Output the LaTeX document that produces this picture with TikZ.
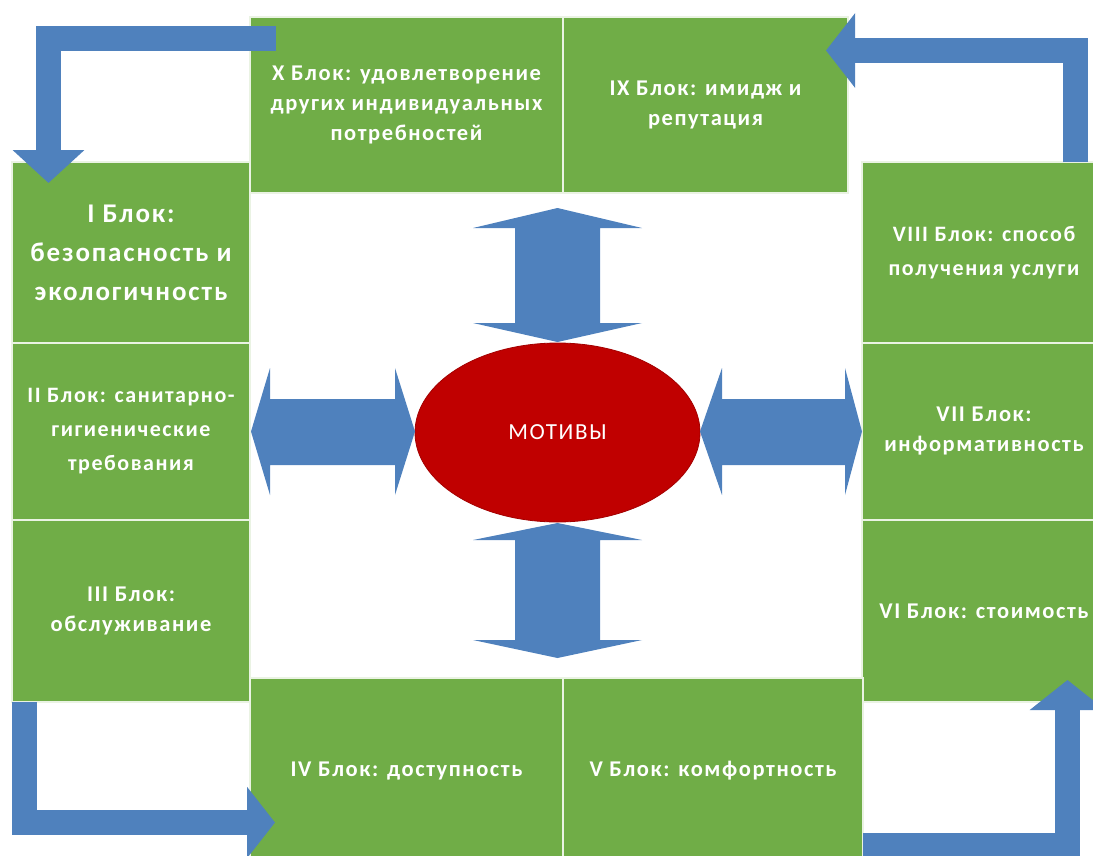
\documentclass[tikz,border=0pt]{standalone}
\usepackage{fontspec}
\setmainfont{Carlito}
\newfontfamily\blockfont{Carlito}[LetterSpace=7.0]
\usetikzlibrary{shapes.geometric, arrows.meta}
\definecolor{blockgreen}{RGB}{112, 173, 71}
\definecolor{arrowblue}{RGB}{79, 129, 189}
\definecolor{motivered}{RGB}{192, 0, 0}
\tikzstyle{block} = [rectangle, draw=white!85!blockgreen, line width=1.2pt, fill=blockgreen, text=white, align=center, inner sep=0pt, font=\blockfont\bfseries\fontsize{22.5}{30}\selectfont]
\tikzstyle{fatarrow} = [fill=arrowblue]
\tikzstyle{looparrow} = [draw=arrowblue, line width=25pt, line join=miter]

\begin{document}
\begin{tikzpicture}[x=1pt, y=-1pt]
    \useasboundingbox (0, 0) rectangle (1093, 855);

    % Top row
    \node[block, minimum width=313pt, minimum height=176pt] (b10) at (406.5, 105) {X Блок: удовлетворение\\других индивидуальных\\потребностей};
    \node[block, minimum width=285pt, minimum height=176pt] (b9) at (705.5, 105) {IX Блок: имидж и\\репутация};

    % Left column
    \node[block, minimum width=238pt, minimum height=181pt, font=\blockfont\bfseries\fontsize{27}{39}\selectfont] (b1) at (131, 252.5) {I Блок:\\безопасность и\\экологичность};
    \node[block, minimum width=238pt, minimum height=177pt, font=\blockfont\bfseries\fontsize{22}{34}\selectfont] (b2) at (131, 431.5) {II Блок: санитарно-\\гигиенические\\требования};
    \node[block, minimum width=238pt, minimum height=182pt] (b3) at (131, 611) {III Блок:\\обслуживание};

    % Right column
    \node[block, minimum width=244pt, minimum height=181pt, font=\blockfont\bfseries\fontsize{22}{34}\selectfont] (b8) at (984, 252.5) {VIII Блок: способ\\получения услуги};
    \node[block, minimum width=244pt, minimum height=177pt] (b7) at (984, 431.5) {VII Блок:\\информативность};
    \node[block, minimum width=244pt, minimum height=182pt] (b6) at (984, 611) {VI Блок: стоимость};

    % Bottom row
    \node[block, minimum width=313pt, minimum height=186pt] (b4) at (406.5, 771) {IV Блок: доступность};
    \node[block, minimum width=300pt, minimum height=186pt] (b5) at (713, 771) {V Блок: комфортность};

    % Loop arrows
    \coordinate (tlstart) at (276, 38);
    \coordinate (tlend) at (48.5, 183);
    \coordinate (trstart) at (1075.5, 162);
    \coordinate (trend) at (826, 50.5);
    \coordinate (blstart) at (24.5, 702);
    \coordinate (blend) at (275, 822.5);
    \coordinate (brstart) at (863, 845.5);
    \coordinate (brend) at (1067.5, 680);
    \draw[looparrow, -{Triangle[width=70pt, length=33pt]}] (tlstart) -| (tlend);
    \draw[looparrow, -{Triangle[width=73pt, length=29pt]}] (trstart) |- (trend);
    \draw[looparrow, -{Triangle[width=70pt, length=28pt]}] (blstart) |- (blend);
    \draw[looparrow, -{Triangle[width=74pt, length=30pt]}] (brstart) -| (brend);

    % Centre
    \node[ellipse, minimum width=285pt, minimum height=179pt, inner sep=0pt, fill=motivered, draw=motivered!85!black, line width=0.8pt, text=white, font=\blockfont\fontsize{23}{27}\selectfont] (motive) at (557.5, 432.5) {МОТИВЫ};

    % Double arrows round the centre
    \fill[fatarrow] (557.5, 208) -- (642, 228) -- (600, 228) -- (600, 323) -- (642, 323) -- (557.5, 342) -- (473, 323) -- (515, 323) -- (515, 228) -- (473, 228) -- cycle;
    \fill[fatarrow] (557.5, 523) -- (642, 540) -- (600, 540) -- (600, 640) -- (642, 640) -- (557.5, 658) -- (473, 640) -- (515, 640) -- (515, 540) -- (473, 540) -- cycle;
    \fill[fatarrow] (251, 431.5) -- (270, 368) -- (270, 399) -- (395, 399) -- (395, 368) -- (415, 431.5) -- (395, 495) -- (395, 465) -- (270, 465) -- (270, 495) -- cycle;
    \fill[fatarrow] (700, 431.5) -- (722, 368) -- (722, 399) -- (845, 399) -- (845, 368) -- (862, 431.5) -- (845, 495) -- (845, 465) -- (722, 465) -- (722, 495) -- cycle;
\end{tikzpicture}
\end{document}
